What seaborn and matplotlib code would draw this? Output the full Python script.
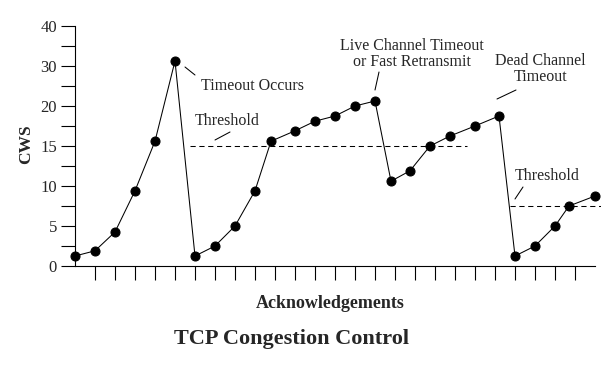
import seaborn as sns
import matplotlib.pyplot as plt
from matplotlib.lines import Line2D
import pandas as pd
import numpy as np

# Congestion window size per acknowledgement
acks = [0, 1, 2, 3, 4, 5, 6, 7, 8, 9, 9.8, 11, 12, 13, 14, 15,
        15.8, 16.75, 17.75, 18.75, 20, 21.2, 22, 23, 24, 24.7, 26]
cws = [1.25, 1.9, 4.25, 9.4, 15.6, 31.25, 1.25, 2.5, 5, 9.4, 15.6, 16.9, 18.1,
       18.75, 20, 21.25, 10.6, 11.9, 15, 16.25, 17.5, 18.75, 1.25, 2.5, 5, 7.5, 8.75]

# thresholds: level and the acknowledgement span they cover
threshold_levels = [15, 7.5]
threshold_starts = [5.75, 21.75]
threshold_ends = [19.6, 26.3]

# the y axis is not linear: labelled ticks are evenly spaced
ytick_values = [0, 5, 10, 15, 20, 30, 40]
ytick_labels = ['0', '5', '10', '15', '20', '30', '40']
ytick_minor = [2.5, 7.5, 12.5, 17.5, 25, 35]

df = pd.DataFrame({'Acknowledgements': acks, 'CWS': cws})

sns.set_style('white')
plt.rcParams['font.family'] = ['Liberation Serif', 'DejaVu Serif']

W, H = 601, 386
fig = plt.figure(figsize=(W / 100, H / 100), dpi=100)
ax = fig.add_axes([75 / W, 120 / H, 520 / W, 240 / H])

pos = np.arange(len(ytick_values))


def fwd(v):
    return np.interp(v, ytick_values, pos)


def inv(p):
    return np.interp(p, pos, ytick_values)


ax.set_yscale('function', functions=(fwd, inv))

sns.lineplot(data=df, x='Acknowledgements', y='CWS', ax=ax, color='black',
             linewidth=0.75, marker='o', markersize=6.5,
             markeredgecolor='black', markerfacecolor='black', clip_on=False)

for lvl, x0, x1 in zip(threshold_levels, threshold_starts, threshold_ends):
    ax.plot([x0, x1], [lvl, lvl], color='black', linewidth=0.75,
            dashes=(5, 3.5), clip_on=False)

ax.set_xlim(0, 26)
ax.set_ylim(0, 40)
ax.set_xticks(np.arange(1, 26))
ax.set_xticklabels([])
ax.set_yticks(ytick_values)
ax.set_yticklabels(ytick_labels)
ax.set_yticks(ytick_minor, minor=True)
ax.tick_params(axis='both', which='both', direction='out', length=10,
               width=0.8, color='black', labelsize=12, pad=3, left=True,
               bottom=True)
ax.tick_params(axis='x', which='minor', bottom=False)
for side in ['top', 'right']:
    ax.spines[side].set_visible(False)
for side in ['left', 'bottom']:
    ax.spines[side].set_color('black')
    ax.spines[side].set_linewidth(0.8)
ax.set_xlabel('')
ax.set_ylabel('')


def ftext(px, py, s, **kw):
    fig.text(px / W, 1 - py / H, s, va='center', **kw)


def fline(x0, y0, x1, y1):
    fig.add_artist(Line2D([x0 / W, x1 / W], [1 - y0 / H, 1 - y1 / H],
                          transform=fig.transFigure, color='black',
                          linewidth=0.75))


ftext(26, 144, 'CWS', rotation=90, ha='center', fontsize=12.5,
      fontweight='bold')
ftext(330, 304, 'Acknowledgements', ha='center', fontsize=13,
      fontweight='bold')
ftext(291, 339, 'TCP Congestion Control', ha='center', fontsize=16,
      fontweight='bold')

ftext(201, 86, 'Timeout Occurs', ha='left', fontsize=11.5)
fline(185, 67, 195, 75)
ftext(195, 121, 'Threshold', ha='left', fontsize=11.5)
fline(215, 140, 230, 132)
ftext(412, 54, 'Live Channel Timeout\nor Fast Retransmit', ha='center',
      multialignment='center', fontsize=11.5, linespacing=0.95)
fline(375, 90, 379, 72)
ftext(540, 69, 'Dead Channel\nTimeout', ha='center',
      multialignment='center', fontsize=11.5, linespacing=0.95)
fline(497, 99, 516, 90)
ftext(515, 176, 'Threshold', ha='left', fontsize=11.5)
fline(515, 199, 523, 187)

fig.savefig('out.png', dpi=100, facecolor='white')
plt.close(fig)
